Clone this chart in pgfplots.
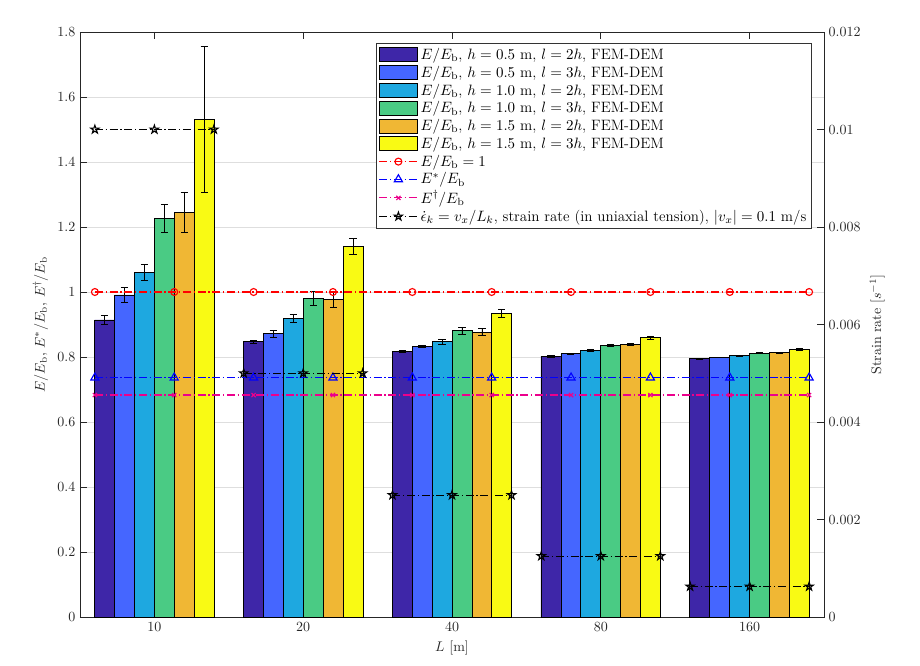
\documentclass[border=0pt]{standalone}
\usepackage{fix-cm}
\usepackage{pgfplots}
\pgfplotsset{compat=1.18}
\usepackage{pgfplotstable}
\usetikzlibrary{plotmarks}

\definecolor{cA}{RGB}{62,38,168}
\definecolor{cB}{RGB}{69,102,255}
\definecolor{cC}{RGB}{30,168,224}
\definecolor{cD}{RGB}{74,203,132}
\definecolor{cE}{RGB}{240,183,52}
\definecolor{cF}{RGB}{249,250,20}

\pgfdeclareplotmark{pentagram}{%
\pgfpathmoveto{\pgfpointpolar{90}{\pgfplotmarksize}}%
\pgfpathlineto{\pgfpointpolar{126}{0.382\pgfplotmarksize}}%
\pgfpathlineto{\pgfpointpolar{162}{\pgfplotmarksize}}%
\pgfpathlineto{\pgfpointpolar{198}{0.382\pgfplotmarksize}}%
\pgfpathlineto{\pgfpointpolar{234}{\pgfplotmarksize}}%
\pgfpathlineto{\pgfpointpolar{270}{0.382\pgfplotmarksize}}%
\pgfpathlineto{\pgfpointpolar{306}{\pgfplotmarksize}}%
\pgfpathlineto{\pgfpointpolar{342}{0.382\pgfplotmarksize}}%
\pgfpathlineto{\pgfpointpolar{18}{\pgfplotmarksize}}%
\pgfpathlineto{\pgfpointpolar{54}{0.382\pgfplotmarksize}}%
\pgfpathclose\pgfusepathqstroke}

\pgfplotstableread{
x y e
1 0.914 0.013
2 0.847 0.004
3 0.817 0.003
4 0.802 0.002
5 0.795 0.001
}\dataA
\pgfplotstableread{
x y e
1 0.991 0.022
2 0.872 0.011
3 0.833 0.002
4 0.810 0.002
5 0.799 0.001
}\dataB
\pgfplotstableread{
x y e
1 1.061 0.025
2 0.919 0.013
3 0.847 0.008
4 0.820 0.003
5 0.804 0.001
}\dataC
\pgfplotstableread{
x y e
1 1.227 0.043
2 0.980 0.021
3 0.881 0.011
4 0.836 0.003
5 0.812 0.001
}\dataD
\pgfplotstableread{
x y e
1 1.245 0.063
2 0.977 0.023
3 0.876 0.011
4 0.838 0.003
5 0.813 0.002
}\dataE
\pgfplotstableread{
x y e
1 1.531 0.224
2 1.141 0.025
3 0.934 0.013
4 0.859 0.005
5 0.822 0.003
}\dataF

\tikzset{mdashdot/.style={dash pattern=on 6pt off 2pt on 1pt off 2pt}}

\pgfplotsset{
  barleg/.style={legend image code/.code={\draw[##1] (0pt,-5.25pt) rectangle (28.5pt,5.25pt);}},
  lineleg/.style={legend image code/.code={\draw[mark repeat=2,mark phase=2,##1] plot coordinates {(0pt,0pt) (14.25pt,0pt) (28.5pt,0pt)};}},
  mybar/.style={ybar, bar width=0.134, bar shift=0, draw=black, line width=0.6pt, barleg,
    error bars/y dir=both, error bars/y explicit,
    error bars/error bar style={black, line width=0.6pt},
    error bars/error mark options={rotate=90, mark size=2.7pt, black, line width=0.6pt}},
  refline/.style={mdashdot, line width=0.85pt, mark options={solid}, lineleg},
}

\begin{document}
\begin{tikzpicture}[font=\fontsize{10.5}{12.6}\selectfont]
\path[use as bounding box] (-60pt,-36pt) rectangle (630pt,462.75pt);
\begin{axis}[
  at={(0pt,0pt)}, anchor=south west,
  width=558pt, height=438.75pt, scale only axis,
  xmin=0.5, xmax=5.5, ymin=0, ymax=1.8,
  xtick={1,2,3,4,5}, xticklabels={10,20,40,80,160},
  ytick={0,0.2,0.4,0.6,0.8,1,1.2,1.4,1.6,1.8},
  ytick pos=left,
  tick align=inside, major tick length=5pt,
  ymajorgrids, major grid style={black!13, line width=0.5pt},
  axis line style={black!85, line width=0.6pt},
  every tick/.style={black!85, line width=0.6pt},
  tick label style={black!85},
  xlabel={$L$ [m]},
  ylabel={$E/E_\mathrm{b}$, $E^*/E_\mathrm{b}$, $E^\dagger/E_\mathrm{b}$},
  label style={black!85},
  legend style={at={(0.984,0.982)}, anchor=north east, draw=black!80, fill=white,
    line width=0.6pt, inner sep=2pt, row sep=-0.6pt, font=\fontsize{11.25}{13.5}\selectfont},
  legend cell align=left,
]
\addplot[mybar, fill=cA] table[x expr=\thisrow{x}-0.335, y=y, y error=e] {\dataA};
\addlegendentry{$E/E_\mathrm{b}$, $h=0.5$ m, $l=2h$, FEM-DEM}
\addplot[mybar, fill=cB] table[x expr=\thisrow{x}-0.201, y=y, y error=e] {\dataB};
\addlegendentry{$E/E_\mathrm{b}$, $h=0.5$ m, $l=3h$, FEM-DEM}
\addplot[mybar, fill=cC] table[x expr=\thisrow{x}-0.067, y=y, y error=e] {\dataC};
\addlegendentry{$E/E_\mathrm{b}$, $h=1.0$ m, $l=2h$, FEM-DEM}
\addplot[mybar, fill=cD] table[x expr=\thisrow{x}+0.067, y=y, y error=e] {\dataD};
\addlegendentry{$E/E_\mathrm{b}$, $h=1.0$ m, $l=3h$, FEM-DEM}
\addplot[mybar, fill=cE] table[x expr=\thisrow{x}+0.201, y=y, y error=e] {\dataE};
\addlegendentry{$E/E_\mathrm{b}$, $h=1.5$ m, $l=2h$, FEM-DEM}
\addplot[mybar, fill=cF] table[x expr=\thisrow{x}+0.335, y=y, y error=e] {\dataF};
\addlegendentry{$E/E_\mathrm{b}$, $h=1.5$ m, $l=3h$, FEM-DEM}

\addplot[red, refline, mark=o, mark size=2.6pt] coordinates {
(0.6,1) (1.1333,1) (1.6667,1) (2.2,1) (2.7333,1) (3.2667,1) (3.8,1) (4.3333,1) (4.8667,1) (5.4,1)};
\addlegendentry{$E/E_\mathrm{b}=1$}
\addplot[blue, refline, mark=triangle, mark size=3.5pt] coordinates {
(0.6,0.7364) (1.1333,0.7364) (1.6667,0.7364) (2.2,0.7364) (2.7333,0.7364) (3.2667,0.7364) (3.8,0.7364) (4.3333,0.7364) (4.8667,0.7364) (5.4,0.7364)};
\addlegendentry{$E^*/E_\mathrm{b}$}
\addplot[magenta, refline, mark=x, mark size=2.2pt] coordinates {
(0.6,0.6829) (1.1333,0.6829) (1.6667,0.6829) (2.2,0.6829) (2.7333,0.6829) (3.2667,0.6829) (3.8,0.6829) (4.3333,0.6829) (4.8667,0.6829) (5.4,0.6829)};
\addlegendentry{$E^\dagger/E_\mathrm{b}$}
\addlegendimage{black, refline, mark=pentagram, mark size=3.2pt}
\addlegendentry{$\dot{\epsilon}_k=v_x/L_k$, strain rate (in uniaxial tension), $|v_x|=0.1$ m/s}
\end{axis}

\begin{axis}[
  at={(0pt,0pt)}, anchor=south west,
  width=558pt, height=438.75pt, scale only axis,
  xmin=0.5, xmax=5.5, ymin=0, ymax=0.012,
  axis x line=none, axis y line*=right,
  scaled y ticks=false,
  ytick={0,0.002,0.004,0.006,0.008,0.01,0.012},
  yticklabels={0,0.002,0.004,0.006,0.008,0.01,0.012},
  tick align=inside, major tick length=5pt,
  axis line style={black!85, line width=0.6pt},
  every tick/.style={black!85, line width=0.6pt},
  tick label style={black!85},
  ylabel={Strain rate $[s^{-1}]$},
  label style={black!85},
]
\pgfplotsset{starline/.style={black, mdashdot, line width=0.85pt, mark=pentagram, mark size=3.2pt, mark options={solid}}}
\addplot[starline] coordinates {(0.6,0.01) (1,0.01) (1.4,0.01)};
\addplot[starline] coordinates {(1.6,0.005) (2,0.005) (2.4,0.005)};
\addplot[starline] coordinates {(2.6,0.0025) (3,0.0025) (3.4,0.0025)};
\addplot[starline] coordinates {(3.6,0.00125) (4,0.00125) (4.4,0.00125)};
\addplot[starline] coordinates {(4.6,0.000625) (5,0.000625) (5.4,0.000625)};
\end{axis}
\end{tikzpicture}
\end{document}
